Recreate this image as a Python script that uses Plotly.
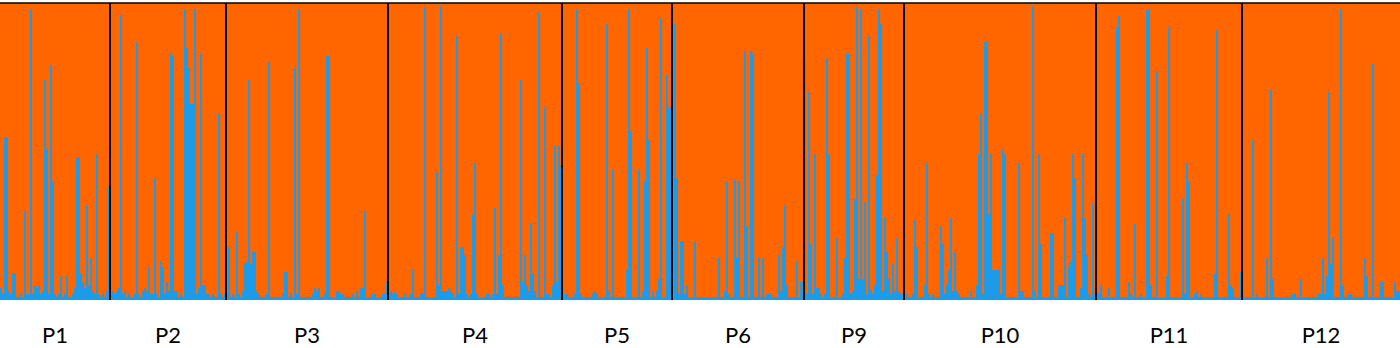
import plotly.graph_objects as go

# Population labels
populations = ["P1", "P2", "P3", "P4", "P5", "P6", "P9", "P10", "P11", "P12"]

# Membership proportion in the blue cluster, per individual (orange = 1 - blue)
P1 = [0.04, 0.02, 0.55, 0.55, 0.03, 0.02, 0.09, 0.09, 0.01, 0.01,
      0.02, 0.01, 0.30, 0.02, 0.02, 0.98, 0.02, 0.05, 0.04, 0.05,
      0.02, 0.03, 0.74, 0.51, 0.02, 0.79, 0.40, 0.02, 0.01, 0.02,
      0.08, 0.01, 0.02, 0.08, 0.01, 0.01, 0.02, 0.04, 0.48, 0.48,
      0.09, 0.06, 0.04, 0.32, 0.05, 0.14, 0.03, 0.02, 0.49, 0.02,
      0.01, 0.02, 0.01, 0.03, 0.38]
P2 = [0.02, 0.03, 0.02, 0.03, 0.04, 0.96, 0.02, 0.03, 0.01, 0.02,
      0.01, 0.01, 0.02, 0.87, 0.02, 0.01, 0.03, 0.04, 0.03, 0.11,
      0.02, 0.02, 0.41, 0.02, 0.01, 0.13, 0.11, 0.02, 0.06, 0.03,
      0.83, 0.82, 0.03, 0.03, 0.01, 0.02, 0.01, 0.98, 0.85, 0.78,
      0.66, 0.66, 0.98, 0.02, 0.04, 0.83, 0.05, 0.05, 0.02, 0.02,
      0.01, 0.02, 0.01, 0.01, 0.63, 0.02, 0.01, 0.02]
P3 = [0.02, 0.18, 0.01, 0.02, 0.01, 0.23, 0.02, 0.01, 0.03, 0.12,
      0.13, 0.74, 0.12, 0.16, 0.16, 0.03, 0.02, 0.01, 0.01, 0.01,
      0.02, 0.80, 0.01, 0.01, 0.01, 0.01, 0.01, 0.01, 0.02, 0.095,
      0.095, 0.01, 0.02, 0.01, 0.78, 0.02, 0.98, 0.01, 0.01, 0.01,
      0.01, 0.01, 0.01, 0.02, 0.04, 0.03, 0.04, 0.01, 0.01, 0.02,
      0.82, 0.82, 0.01, 0.01, 0.01, 0.03, 0.03, 0.02, 0.02, 0.01,
      0.01, 0.01, 0.01, 0.02, 0.01, 0.03, 0.01, 0.04, 0.04, 0.30,
      0.01, 0.01, 0.01, 0.02, 0.02, 0.01, 0.01, 0.01, 0.02, 0.02,
      0.06]
P4 = [0.02, 0.03, 0.02, 0.03, 0.02, 0.01, 0.01, 0.01, 0.02, 0.01,
      0.01, 0.02, 0.105, 0.01, 0.01, 0.01, 0.025, 0.025, 0.985, 0.01,
      0.01, 0.01, 0.01, 0.01, 0.43, 0.05, 0.99, 0.03, 0.03, 0.03,
      0.04, 0.03, 0.02, 0.01, 0.89, 0.02, 0.18, 0.18, 0.15, 0.02,
      0.01, 0.02, 0.29, 0.46, 0.02, 0.01, 0.01, 0.01, 0.01, 0.02,
      0.02, 0.01, 0.02, 0.31, 0.02, 0.15, 0.90, 0.05, 0.01, 0.01,
      0.01, 0.01, 0.01, 0.01, 0.01, 0.01, 0.74, 0.06, 0.15, 0.05,
      0.03, 0.26, 0.09, 0.03, 0.01, 0.97, 0.01, 0.01, 0.65, 0.02,
      0.02, 0.01, 0.05, 0.52, 0.06, 0.52, 0.45]
P5 = [0.01, 0.02, 0.02, 0.01, 0.01, 0.01, 0.02, 0.98, 0.73, 0.02,
      0.01, 0.01, 0.01, 0.01, 0.01, 0.025, 0.03, 0.025, 0.01, 0.01,
      0.01, 0.01, 0.93, 0.03, 0.01, 0.44, 0.01, 0.01, 0.01, 0.01,
      0.01, 0.01, 0.10, 0.98, 0.57, 0.01, 0.01, 0.01, 0.44, 0.01,
      0.03, 0.40, 0.85, 0.54, 0.01, 0.03, 0.01, 0.03, 0.07, 0.95,
      0.01, 0.01, 0.76, 0.65, 0.65]
P6 = [0.01, 0.93, 0.41, 0.02, 0.20, 0.20, 0.02, 0.05, 0.01, 0.01,
      0.01, 0.20, 0.01, 0.01, 0.01, 0.01, 0.01, 0.01, 0.01, 0.01,
      0.01, 0.01, 0.01, 0.145, 0.01, 0.01, 0.03, 0.40, 0.02, 0.01,
      0.01, 0.405, 0.144, 0.40, 0.01, 0.01, 0.84, 0.25, 0.01, 0.84,
      0.83, 0.01, 0.01, 0.14, 0.01, 0.14, 0.01, 0.02, 0.02, 0.02,
      0.01, 0.01, 0.01, 0.15, 0.03, 0.18, 0.32, 0.05, 0.01, 0.01,
      0.01, 0.01, 0.13, 0.01, 0.06, 0.06]
P9 = [0.80, 0.02, 0.70, 0.19, 0.02, 0.49, 0.04, 0.04, 0.02, 0.01,
      0.02, 0.815, 0.49, 0.01, 0.01, 0.01, 0.21, 0.01, 0.01, 0.02,
      0.14, 0.83, 0.83, 0.02, 0.03, 0.34, 0.985, 0.07, 0.98, 0.07,
      0.33, 0.02, 0.89, 0.035, 0.02, 0.05, 0.42, 0.98, 0.93, 0.03,
      0.28, 0.16, 0.07, 0.02, 0.12, 0.03, 0.21, 0.03, 0.02, 0.02]
P10 = [0.01, 0.02, 0.01, 0.01, 0.02, 0.27, 0.18, 0.01, 0.01, 0.01,
       0.05, 0.46, 0.02, 0.01, 0.02, 0.01, 0.01, 0.01, 0.25, 0.19,
       0.02, 0.05, 0.10, 0.275, 0.03, 0.16, 0.03, 0.02, 0.01, 0.01,
       0.01, 0.01, 0.01, 0.03, 0.01, 0.01, 0.05, 0.49, 0.63, 0.02,
       0.87, 0.87, 0.29, 0.49, 0.10, 0.10, 0.10, 0.10, 0.02, 0.51,
       0.49, 0.01, 0.01, 0.01, 0.01, 0.01, 0.01, 0.46, 0.03, 0.03,
       0.01, 0.01, 0.01, 0.01, 0.99, 0.03, 0.01, 0.49, 0.19, 0.01,
       0.01, 0.01, 0.01, 0.225, 0.225, 0.01, 0.01, 0.05, 0.05, 0.05,
       0.28, 0.01, 0.11, 0.13, 0.49, 0.41, 0.01, 0.01, 0.04, 0.49,
       0.275, 0.15, 0.02, 0.01, 0.325, 0.02]
P11 = [0.01, 0.02, 0.05, 0.01, 0.01, 0.01, 0.04, 0.01, 0.01, 0.01,
       0.92, 0.955, 0.01, 0.01, 0.01, 0.01, 0.06, 0.02, 0.01, 0.255,
       0.01, 0.01, 0.02, 0.01, 0.01, 0.975, 0.98, 0.05, 0.01, 0.01,
       0.77, 0.01, 0.01, 0.01, 0.01, 0.08, 0.92, 0.01, 0.01, 0.01,
       0.01, 0.01, 0.01, 0.345, 0.02, 0.46, 0.40, 0.01, 0.01, 0.02,
       0.03, 0.01, 0.02, 0.01, 0.01, 0.01, 0.01, 0.01, 0.01, 0.09,
       0.91, 0.01, 0.01, 0.01, 0.01, 0.01, 0.29, 0.05, 0.04, 0.01,
       0.01, 0.01, 0.095]
P12 = [0.01, 0.01, 0.01, 0.01, 0.01, 0.54, 0.01, 0.02, 0.01, 0.01,
       0.01, 0.01, 0.14, 0.01, 0.71, 0.07, 0.01, 0.01, 0.01, 0.01,
       0.01, 0.01, 0.01, 0.01, 0.01, 0.02, 0.02, 0.01, 0.01, 0.07,
       0.01, 0.01, 0.01, 0.01, 0.01, 0.01, 0.01, 0.01, 0.02, 0.02,
       0.14, 0.02, 0.08, 0.70, 0.12, 0.21, 0.01, 0.01, 0.01, 0.98,
       0.05, 0.01, 0.01, 0.02, 0.02, 0.01, 0.01, 0.01, 0.01, 0.01,
       0.01, 0.14, 0.08, 0.01, 0.01, 0.795, 0.01, 0.01, 0.01, 0.06,
       0.06, 0.01, 0.01, 0.01, 0.01, 0.01, 0.06, 0.03, 0.03]

groups = [P1, P2, P3, P4, P5, P6, P9, P10, P11, P12]

BLUE = "#1E9BE8"
ORANGE = "#FF6600"

blue = []
for g in groups:
    blue.extend(g)
orange = [1 - v for v in blue]
idx = list(range(len(blue)))

# population boundaries and centres (in individual index units)
bounds = []
centres = []
start = 0
for g in groups:
    centres.append(start + (len(g) - 1) / 2)
    start += len(g)
    bounds.append(start - 0.5)

fig = go.Figure()
fig.add_trace(go.Bar(x=idx, y=blue, marker=dict(color=BLUE, line=dict(width=0)),
                     name="Cluster 1", hoverinfo="skip"))
fig.add_trace(go.Bar(x=idx, y=orange, marker=dict(color=ORANGE, line=dict(width=0)),
                     name="Cluster 2", hoverinfo="skip"))

shapes = []
for b in bounds[:-1]:
    shapes.append(dict(type="line", xref="x", yref="paper", x0=b, x1=b, y0=0, y1=1,
                       line=dict(color="black", width=2)))
shapes.append(dict(type="line", xref="paper", yref="paper", x0=0, x1=1, y0=1, y1=1,
                   line=dict(color="black", width=1.5)))

fig.update_layout(
    barmode="stack",
    bargap=0,
    width=1400,
    height=348,
    margin=dict(l=0, r=0, t=3, b=46),
    paper_bgcolor="white",
    plot_bgcolor="white",
    showlegend=False,
    shapes=shapes,
    font=dict(family="Lato, 'Open Sans', sans-serif", color="black"),
    xaxis=dict(range=[-0.5, len(blue) - 0.5], showgrid=False, zeroline=False,
               showline=False, ticks="", tickmode="array", tickvals=centres,
               ticktext=populations, tickfont=dict(size=22, color="black"),
               ticklabelstandoff=20, fixedrange=True),
    yaxis=dict(range=[0, 1], showgrid=False, zeroline=False, showline=False,
               showticklabels=False, ticks="", fixedrange=True),
)

fig.write_html("out.html")
